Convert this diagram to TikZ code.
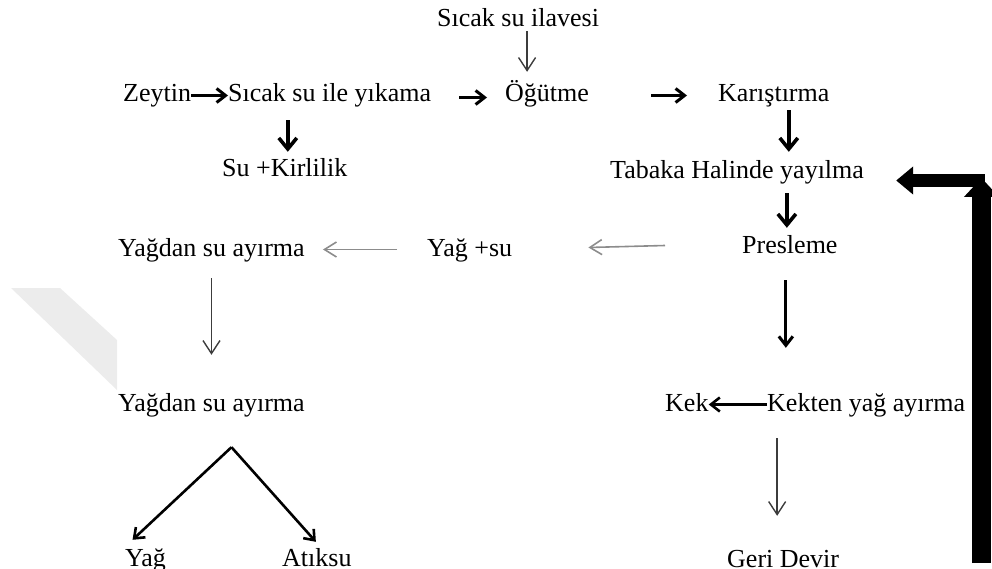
\documentclass[tikz,border=0pt]{standalone}
\usepackage{fontspec}
\setmainfont{Liberation Serif}
\usetikzlibrary{arrows.meta,calc}
\definecolor{wmark}{RGB}{236,236,236}
\definecolor{lightarrow}{RGB}{140,140,140}
\definecolor{darkarrow}{RGB}{60,60,60}
\begin{document}
\begin{tikzpicture}[x=1pt,y=-1pt,
  lbl/.style={anchor=base west, inner sep=0pt, text height=17pt, text depth=6pt,
              font=\fontsize{26}{30}\selectfont},
  boldarr/.style={draw=black, line width=3pt,
                  -{Straight Barb[length=9pt,width=14pt,line width=3pt]}},
  heavyarr/.style={draw=black, line width=3.8pt,
                  -{Straight Barb[length=11pt,width=18pt,line width=3.6pt]}},
  thinarr/.style={draw=darkarrow, line width=1.4pt,
                  -{Straight Barb[length=13pt,width=17pt,line width=1.4pt]}},
  greyarr/.style={draw=lightarrow, line width=1.6pt,
                  -{Straight Barb[length=12pt,width=15pt,line width=1.6pt]}},
  midarr/.style={draw=black, line width=2.6pt,
                  -{Straight Barb[length=9pt,width=14pt,line width=2.6pt]}}]
\useasboundingbox (0,0) rectangle (992,569);
\clip (0,0) rectangle (992,569);

% faint background mark
\fill[wmark] (11,288) -- (60,288) -- (117,340) -- (117,390) -- cycle;

% process steps
\node[lbl] (ilave)  at (437,27)  {Sıcak su ilavesi};
\node[lbl] (zeytin) at (123,102) {Zeytin};
\node[lbl] (yikama) at (228,102) {Sıcak su ile yıkama};
\node[lbl] (ogutme) at (505,102) {Öğütme};
\node[lbl] (karis)  at (718,102) {Karıştırma};
\node[lbl] (kir)    at (222,177) {Su +Kirlilik};
\node[lbl] (tabaka) at (610,179) {Tabaka Halinde yayılma};
\node[lbl] (pres)   at (742,254) {Presleme};
\node[lbl] (yagsu)  at (427,256) {Yağ +su};
\node[lbl] (ayir1)  at (118,256) {Yağdan su ayırma};
\node[lbl] (ayir2)  at (118,411) {Yağdan su ayırma};
\node[lbl] (kek)    at (665,411) {Kek};
\node[lbl] (kekten) at (767,411) {Kekten yağ ayırma};
\node[lbl] (yag)    at (125,566) {Yağ};
\node[lbl] (atiksu) at (282,566) {Atıksu};
\node[lbl] (geri)   at (727,567) {Geri Devir};

% top row
\draw[thinarr] ($(ilave.south)+(9,-2)$) -- ($(ilave.south |- ogutme.north)+(9,-13)$);
\draw[boldarr] ($(zeytin.east)+(0,-1)$) -- ($(yikama.west)+(0,-1)$);
\draw[boldarr] ($(yikama.east)+(28,1)$) -- ($(ogutme.west)+(-18,1)$);
\draw[boldarr] ($(ogutme.east)+(62,-1)$) -- ($(karis.west)+(-31,-1)$);
\draw[heavyarr] ($(yikama.south -| kir.north)+(3,12)$) -- ($(kir.north)+(3,-8)$);

% right column
\draw[heavyarr] ($(karis.south)+(15,2)$) -- ($(karis.south |- tabaka.north)+(15,-10)$);
\draw[heavyarr] ($(tabaka.south -| pres.north)+(-3,8)$) -- ($(pres.north)+(-3,-9)$);
\draw[boldarr] ($(pres.south)+(-4,20)$) -- ($(pres.south |- kekten.north)+(-4,-46)$);
\draw[midarr] ($(kekten.west)+(0,-1)$) -- ($(kek.east)+(0,-1)$);
\draw[thinarr] ($(kekten.south -| geri.north)+(-6,21)$) -- ($(geri.north)+(-6,-34)$);

% separated oil and water
\draw[greyarr] ($(pres.west)+(-77,-3)$) -- ($(yagsu.east)+(76,-3)$);
\draw[greyarr] ($(yagsu.west)+(-30,-1)$) -- ($(ayir1.east)+(18,-1)$);
\draw[thinarr] ($(ayir1.south)+(0,16)$) -- ($(ayir2.north)+(0,-39)$);

% final split
\coordinate (apex) at ($(ayir2.south)+(20,30)$);
\draw[midarr] (apex) -- ($(yag.north)+(-13,-9)$);
\draw[midarr] (apex) -- ($(atiksu.north)+(-1,-7)$);

% recycle loop back to spreading
\coordinate (loopbot) at (981.5,563);
\coordinate (looptop) at (981.5,178);
\coordinate (loopcorner) at (985,180.5);
\draw[line width=19pt, -{Triangle[length=19pt,width=34pt]}] (loopbot) -- (looptop);
\draw[line width=13pt, -{Triangle[length=17pt,width=27pt]}] (loopcorner) -- ($(tabaka.east)+(32,7)$);
\end{tikzpicture}
\end{document}
